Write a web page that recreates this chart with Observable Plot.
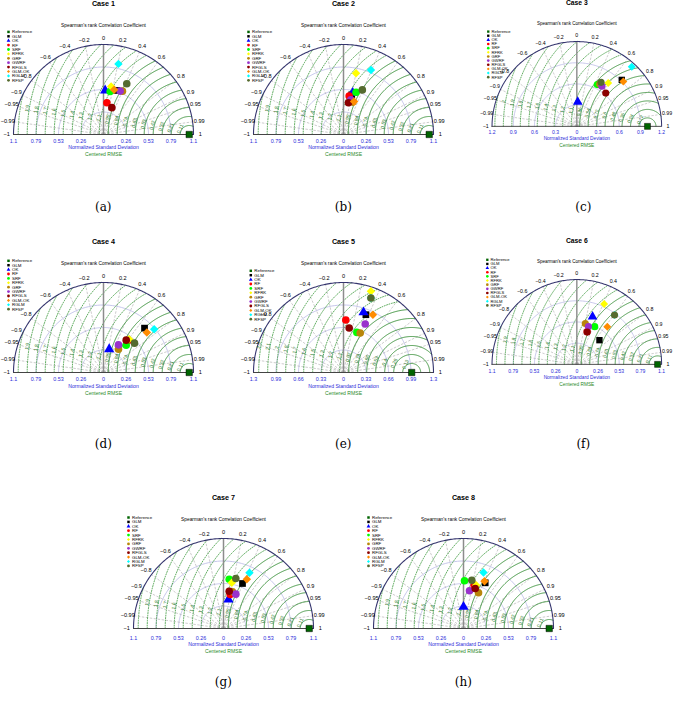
<!DOCTYPE html>
<html><head><meta charset="utf-8">
<script src="https://cdn.jsdelivr.net/npm/d3@7"></script>
<script src="https://cdn.jsdelivr.net/npm/@observablehq/plot@0.6"></script>
<style>
body{margin:0;background:#fff;}
#fig{position:relative;width:685px;height:709px;overflow:hidden;background:#fff;}
.panel{position:absolute;}
.cap{position:absolute;font-family:"DejaVu Serif","Liberation Serif",serif;font-size:12px;transform:translate(-50%,-50%);color:#000;}
</style></head><body><div id="fig"></div>
<script>
// ---------- data ----------
const models = ["Reference","GLM","OK","RF","SRF","RFRK","GRF","GWRF","RFGLS","GLM-OK","RGLM","RFSP"];
const modelColors = ["#006400","#000000","#0000ff","#ff0000","#00ff00","#ffff00","#b8860b","#9932cc","#8b0000","#ff8c00","#00ffff","#556b2f"];
const caseTitles = ["Case 1","Case 2","Case 3","Case 4","Case 5","Case 6","Case 7","Case 8"];
const captions = ["(a)","(b)","(c)","(d)","(e)","(f)","(g)","(h)"];
const sdMax = [1.05,1.05,1.2,1.05,1.32,1.05,1.05,1.05];
const corTicks = [-1,-0.99,-0.95,-0.9,-0.8,-0.6,-0.4,-0.2,0,0.2,0.4,0.6,0.8,0.9,0.95,0.99,1];
const corTickLabels = ["\u22121","\u22120.99","\u22120.95","\u22120.9","\u22120.8","\u22120.6","\u22120.4","\u22120.2","0","0.2","0.4","0.6","0.8","0.9","0.95","0.99","1"];
const corGrid = [-0.99,-0.95,-0.9,-0.8,-0.6,-0.4,-0.2,0.2,0.4,0.6,0.8,0.9,0.95,0.99];
const refSd = 1, refCor = 1;
// model order: GLM, OK, RF, SRF, RFRK, GRF, GWRF, RFGLS, GLM-OK, RGLM, RFSP
const sd1 = [0.537,0.514,0.373,0.508,0.567,0.552,0.542,0.328,0.537,0.842,0.651];
const cor1 = [0.290,0.038,0.106,0.153,0.157,0.400,0.358,0.297,0.231,0.207,0.417];
const sd2 = [0.473,0.498,0.453,0.515,0.729,0.393,0.414,0.375,0.405,0.818,0.565];
const cor2 = [0.203,0.216,0.146,0.285,0.200,0.275,0.205,0.154,0.305,0.392,0.389];
const sd3 = [0.915,0.347,0.668,0.658,0.757,0.682,0.671,0.624,0.915,1.148,0.711];
const cor3 = [0.695,0.038,0.466,0.440,0.587,0.476,0.530,0.656,0.719,0.677,0.482];
const sd4 = [0.705,0.280,0.466,0.414,0.491,0.323,0.367,0.461,0.688,0.778,0.498];
const cor4 = [0.679,0.237,0.610,0.639,0.610,0.541,0.476,0.575,0.735,0.760,0.726];
const sd5 = [0.909,0.930,0.770,0.620,1.257,0.628,0.779,0.657,0.951,1.165,1.165];
const cor5 = [0.361,0.316,0.044,0.316,0.320,0.390,0.409,0.127,0.453,0.345,0.345];
const sd6 = [0.410,0.622,0.425,0.517,0.820,0.517,0.489,0.420,0.600,0.769,0.769];
const cor6 = [0.683,0.313,0.300,0.429,0.413,0.203,0.294,0.305,0.629,0.607,0.607];
const sd7 = [0.570,0.343,0.405,0.579,0.542,0.441,0.426,0.440,0.636,0.717,0.601];
const cor7 = [0.389,0.170,0.193,0.115,0.179,0.238,0.338,0.151,0.428,0.423,0.239];
const sd8 = [0.590,0.253,0.520,0.557,0.526,0.452,0.446,0.487,0.604,0.694,0.572];
const cor8 = [0.429,0.000,0.240,0.021,0.282,0.388,0.157,0.281,0.406,0.336,0.170];
const sds = [sd1,sd2,sd3,sd4,sd5,sd6,sd7,sd8];
const cors = [cor1,cor2,cor3,cor4,cor5,cor6,cor7,cor8];

// ---------- layout ----------
const centers = [[103.3,134.3],[343.3,134.3],[583.3,134.3],[103.3,371.7],[343.3,371.7],[583.3,371.7],[223.3,628.3],[463.3,628.3]];
const legendTop = [102.6,102.6,100.6,111.7,101.7,111,111,111];
const legendX = [-95,-95,-94,-95,-92.7,-95,-95,-95];
const bottomShift = [0,0,0,0.5,0.5,0.5,3,3];
const captionY = [207,207,207,444,444,444,682,682];
const modelSymbols = [d3.symbolSquare,d3.symbolSquare,d3.symbolTriangle,d3.symbolCircle,d3.symbolCircle,d3.symbolDiamond2,d3.symbolCircle,d3.symbolCircle,d3.symbolCircle,d3.symbolDiamond2,d3.symbolDiamond2,d3.symbolCircle];

const fig = document.getElementById("fig");
const R = 90, W = 230, H = 176, OX = 115, OY = 140;
const fmt2 = d3.format(".2~g");

function arcPts(r, a0, a1, key, n = 140) {
  return d3.range(n + 1).map(k => { const a = a0 + (a1 - a0) * k / n; return {x: r * Math.cos(a), y: r * Math.sin(a), k: key}; });
}

function panel(i) {
  const mx = sdMax[i];
  const P = p => p * mx / R; // pixel offset -> data units
  const bs = bottomShift[i];
  const pts = [{m: "Reference", sd: refSd, c: refCor}].concat(models.slice(1).map((m, j) => ({m, sd: sds[i][j], c: cors[i][j]})));
  pts.forEach(p => { p.x = p.sd * p.c; p.y = p.sd * Math.sqrt(Math.max(0, 1 - p.c * p.c)); });

  const stdArcs = [0.25, 0.5, 0.75].flatMap((f, k) => arcPts(f * mx, 0, Math.PI, k));
  const outer = arcPts(mx, 0, Math.PI, 0, 200);
  const rms = [];
  for (let k = 1; k * mx / 10 < 1 + mx - 1e-9; k++) rms.push(k * mx / 10);
  const rmsSolid = [], rmsDot = [], rmsLab = [];
  rms.forEach((r, k) => {
    const cm = Math.max(-1, Math.min(1, (1 + r * r - mx * mx) / (2 * r)));
    const pm = Math.acos(cm);
    const arr = d3.range(121).map(t => { const f = pm * t / 120; return {x: 1 - r * Math.cos(f), y: r * Math.sin(f), k}; });
    (r < 1 - 1e-9 ? rmsSolid : rmsDot).push(...arr);
    const x0px = (1 - r) / mx * R;
    const ypx = 6 + 0.134 * (74 - x0px);
    const y = P(ypx);
    if (y < r) {
      const x = 1 - Math.sqrt(r * r - y * y);
      if (Math.hypot(x, y) < mx * 0.97) {
        const phi = Math.asin(y / r) * 180 / Math.PI;
        rmsLab.push({x, y, t: fmt2(r), rot: -90 + Math.min(phi, 25)});
      }
    }
  });
  const stdTicks = d3.range(-4, 5).map(k => k * mx / 4);
  const legend = models.map((m, j) => ({m, x: P(legendX[i]), y: P(legendTop[i] - 4.4 * j)}));

  const marks = [
    Plot.line(stdArcs, {x: "x", y: "y", z: "k", stroke: "#b8b8e6", strokeWidth: 0.8}),
    Plot.link(corGrid, {x1: 0, y1: 0, x2: c => mx * c, y2: c => mx * Math.sqrt(1 - c * c), stroke: "#a9a9a9", strokeWidth: 0.6, strokeDasharray: "2.5,1.5"}),
    Plot.line(rmsDot, {x: "x", y: "y", z: "k", stroke: "#3c9a3c", strokeWidth: 0.9, strokeDasharray: "0.9,1.6"}),
    Plot.line(rmsSolid, {x: "x", y: "y", z: "k", stroke: "#2f8a2f", strokeWidth: 0.9}),
    Plot.ruleX([0], {y1: 0, y2: mx, stroke: "#8c8c8c", strokeWidth: 1.5}),
    Plot.line(outer, {x: "x", y: "y", stroke: "#35356e", strokeWidth: 1.1}),
    Plot.ruleY([0], {x1: -mx, x2: mx, stroke: "#444", strokeWidth: 1}),
    Plot.text(rmsLab, {x: "x", y: "y", text: "t", rotate: "rot", fill: "#1f7a1f", fontSize: 5, dx: -2}),
    Plot.text(corTicks, {x: c => 1.075 * mx * c, y: c => 1.075 * mx * Math.sqrt(1 - c * c), text: (c, j) => corTickLabels[j], fontSize: 5.6, fill: "#000"}),
    Plot.text(stdTicks, {x: d => d, y: 0, dy: 6.5 + bs, text: d => fmt2(Math.abs(d)), fill: "#2b2bd9", fontSize: 5.4}),
    Plot.text(["Normalized Standard Deviation"], {x: 0, y: P(-13 - bs), fill: "#2b2bd9", fontSize: 5.1}),
    Plot.text(["Centered RMSE"], {x: 0, y: P(-20.3 - bs), fill: "#2a8a2a", fontSize: 5.1}),
    Plot.text([caseTitles[i]], {x: 0, y: P(131), fontSize: 7.2, fontWeight: "bold", fill: "#000"}),
    Plot.text(["Spearman's rank Correlation Coefficient"], {x: 0, y: P(109.5), fontSize: 4.8, fill: "#000"}),
    Plot.dot(pts.slice(0, 1), {x: "x", y: "y", symbol: "m", fill: "m", stroke: "#000", strokeWidth: 0.5, r: 3.6}),
    Plot.dot(pts.slice(1), {x: "x", y: "y", symbol: "m", fill: "m", r: 3.8}),
    Plot.dot(legend, {x: "x", y: "y", symbol: "m", fill: "m", r: 1.4}),
    Plot.text(legend, {x: "x", y: "y", text: "m", dx: 3.5, textAnchor: "start", fontSize: 4.4, fill: "#000"})
  ];

  const svg = Plot.plot({
    width: W, height: H, margin: 0,
    x: {domain: [-mx, mx], range: [OX - R, OX + R], axis: null},
    y: {domain: [0, mx], range: [OY, OY - R], axis: null},
    symbol: {domain: models, range: modelSymbols},
    color: {domain: models, range: modelColors},
    style: {fontFamily: "'Liberation Sans', Arial, sans-serif", overflow: "visible", background: "transparent"},
    marks
  });
  const div = document.createElement("div");
  div.className = "panel";
  div.style.left = (centers[i][0] - OX) + "px";
  div.style.top = (centers[i][1] - OY) + "px";
  div.appendChild(svg);
  fig.appendChild(div);

  const cap = document.createElement("div");
  cap.className = "cap";
  cap.style.left = centers[i][0] + "px";
  cap.style.top = captionY[i] + "px";
  cap.textContent = captions[i];
  fig.appendChild(cap);
}
for (let i = 0; i < 8; i++) panel(i);
</script></body></html>
